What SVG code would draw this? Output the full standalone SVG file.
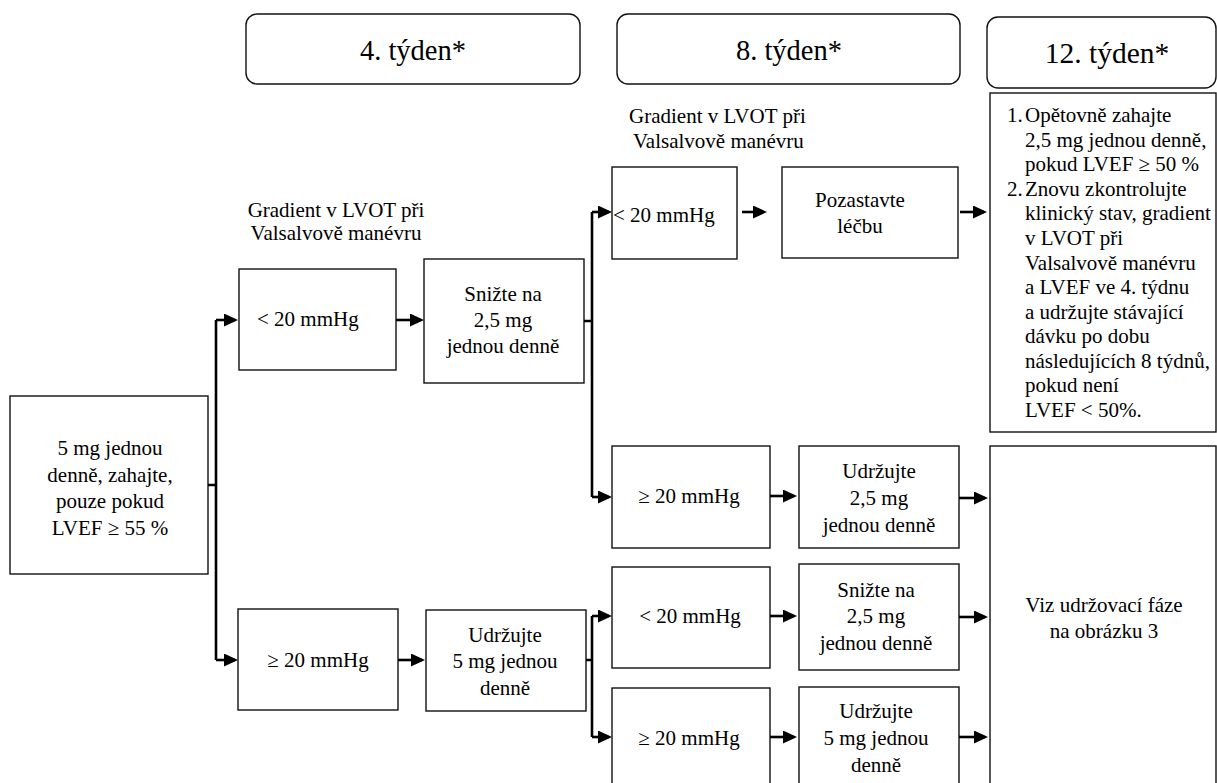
<svg xmlns="http://www.w3.org/2000/svg" width="1217" height="783" viewBox="0 0 1217 783">
<defs>
<marker id="ah" viewBox="0 0 14 13" refX="11" refY="6.5" markerWidth="14" markerHeight="13" markerUnits="userSpaceOnUse" orient="auto">
<path d="M0,0 L14,6.5 L0,13 z" fill="#000"/>
</marker>
<style>
text{font-family:'Liberation Serif','Times New Roman',serif;font-size:21px;fill:#000}
.c{text-anchor:middle}
.h{font-size:28.5px}
.box{fill:#fff;stroke:#111;stroke-width:1.4}
.hdr{fill:#fff;stroke:#111;stroke-width:1.4}
.ln{fill:none;stroke:#000;stroke-width:2.6}
.ar{fill:none;stroke:#000;stroke-width:2.6;marker-end:url(#ah)}
</style>
</defs>
<rect width="1217" height="783" fill="#fff"/>

<g id="hdr4"><rect class="hdr" x="246" y="14" width="334" height="70" rx="11"/><text class="c h" x="413" y="60">4. týden*</text></g>
<g id="hdr8"><rect class="hdr" x="617" y="14" width="343" height="70" rx="11"/><text class="c h" x="789" y="60">8. týden*</text></g>
<g id="hdr12"><rect class="hdr" x="987" y="17" width="229" height="71" rx="11"/><text class="c h" x="1107" y="63" style="font-size:29.5px">12. týden*</text></g>

<g id="lbl4"><text class="c" x="336" y="217">Gradient v LVOT při</text><text class="c" x="336" y="240">Valsalvově manévru</text></g>
<g id="lbl8"><text x="629" y="123">Gradient v LVOT při</text><text x="633" y="148">Valsalvově manévru</text></g>

<g id="start"><rect class="box" x="10" y="396" width="198" height="178"/>
<text class="c" x="110" y="455">5 mg jednou</text><text class="c" x="110" y="481.5">denně, zahajte,</text><text class="c" x="110" y="508">pouze pokud</text><text class="c" x="110" y="534.5">LVEF ≥ 55 %</text></g>

<g id="w4lt"><rect class="box" x="239" y="269" width="157" height="101"/><text x="257" y="326">&lt; 20 mmHg</text></g>
<g id="w4red"><rect class="box" x="424" y="259" width="160" height="124"/>
<text class="c" x="503" y="301">Snižte na</text><text class="c" x="503" y="327">2,5 mg</text><text class="c" x="503" y="353">jednou denně</text></g>
<g id="w4ge"><rect class="box" x="238" y="609" width="160" height="101"/><text class="c" x="318" y="667">≥ 20 mmHg</text></g>
<g id="w4keep"><rect class="box" x="426" y="610" width="160" height="101"/>
<text class="c" x="505" y="642">Udržujte</text><text class="c" x="505" y="668">5 mg jednou</text><text class="c" x="505" y="695">denně</text></g>

<g id="w8lt1"><rect class="box" x="612" y="167" width="125" height="92"/><text x="613" y="222">&lt; 20 mmHg</text></g>
<g id="w8stop"><rect class="box" x="782" y="167" width="176" height="91"/>
<text class="c" x="860" y="207">Pozastavte</text><text class="c" x="860" y="233">léčbu</text></g>
<g id="w8ge1"><rect class="box" x="612" y="446" width="158" height="102"/><text class="c" x="689" y="503">≥ 20 mmHg</text></g>
<g id="w8keep25"><rect class="box" x="799" y="446" width="160" height="102"/>
<text class="c" x="879" y="478">Udržujte</text><text class="c" x="879" y="505">2,5 mg</text><text class="c" x="879" y="532">jednou denně</text></g>
<g id="w8lt2"><rect class="box" x="612" y="567" width="158" height="101"/><text class="c" x="690" y="623">&lt; 20 mmHg</text></g>
<g id="w8red"><rect class="box" x="799" y="564" width="160" height="106"/>
<text class="c" x="876" y="597">Snižte na</text><text class="c" x="876" y="623">2,5 mg</text><text class="c" x="876" y="650">jednou denně</text></g>
<g id="w8ge2"><rect class="box" x="612" y="688" width="158" height="102"/><text class="c" x="689" y="745">≥ 20 mmHg</text></g>
<g id="w8keep5"><rect class="box" x="799" y="687" width="160" height="103"/>
<text class="c" x="876" y="718">Udržujte</text><text class="c" x="876" y="745">5 mg jednou</text><text class="c" x="876" y="772">denně</text></g>

<g id="w12a"><rect class="box" x="990" y="93" width="226" height="339"/>
<text x="1007" y="122">1.</text><text x="1025" y="122">Opětovně zahajte</text>
<text x="1025" y="146.6">2,5 mg jednou denně,</text>
<text x="1025" y="171.2">pokud LVEF ≥ 50 %</text>
<text x="1007" y="195.7">2.</text><text x="1025" y="195.7">Znovu zkontrolujte</text>
<text x="1025" y="220.3">klinický stav, gradient</text>
<text x="1025" y="244.9">v LVOT při</text>
<text x="1025" y="269.5">Valsalvově manévru</text>
<text x="1025" y="294.1">a LVEF ve 4. týdnu</text>
<text x="1025" y="318.6">a udržujte stávající</text>
<text x="1025" y="343.2">dávku po dobu</text>
<text x="1025" y="367.8">následujících 8 týdnů,</text>
<text x="1025" y="392.4">pokud není</text>
<text x="1025" y="417">LVEF &lt; 50%.</text></g>
<g id="w12b"><rect class="box" x="990" y="446" width="226" height="344"/>
<text class="c" x="1104" y="612">Viz udržovací fáze</text><text class="c" x="1104" y="638">na obrázku 3</text></g>

<g id="connectors">
<path class="ln" d="M208 485 H216 M216 320 V660"/>
<path class="ar" d="M216 320 H235"/>
<path class="ar" d="M216 660 H235"/>
<path class="ar" d="M396 320 H421"/>
<path class="ar" d="M398 660 H422"/>
<path class="ln" d="M584 321 H592 M592 212 V497"/>
<path class="ar" d="M592 212 H609"/>
<path class="ar" d="M592 497 H609"/>
<path class="ln" d="M586 660 H592 M592 616 V737"/>
<path class="ar" d="M592 616 H609"/>
<path class="ar" d="M592 737 H609"/>
<path class="ar" d="M742 212 H764"/>
<path class="ar" d="M960 212 H984"/>
<path class="ar" d="M770 496 H794"/>
<path class="ar" d="M959 498 H985"/>
<path class="ar" d="M770 616 H794"/>
<path class="ar" d="M959 617 H985"/>
<path class="ar" d="M770 737 H794"/>
<path class="ar" d="M959 737 H985"/>
</g>
</svg>
